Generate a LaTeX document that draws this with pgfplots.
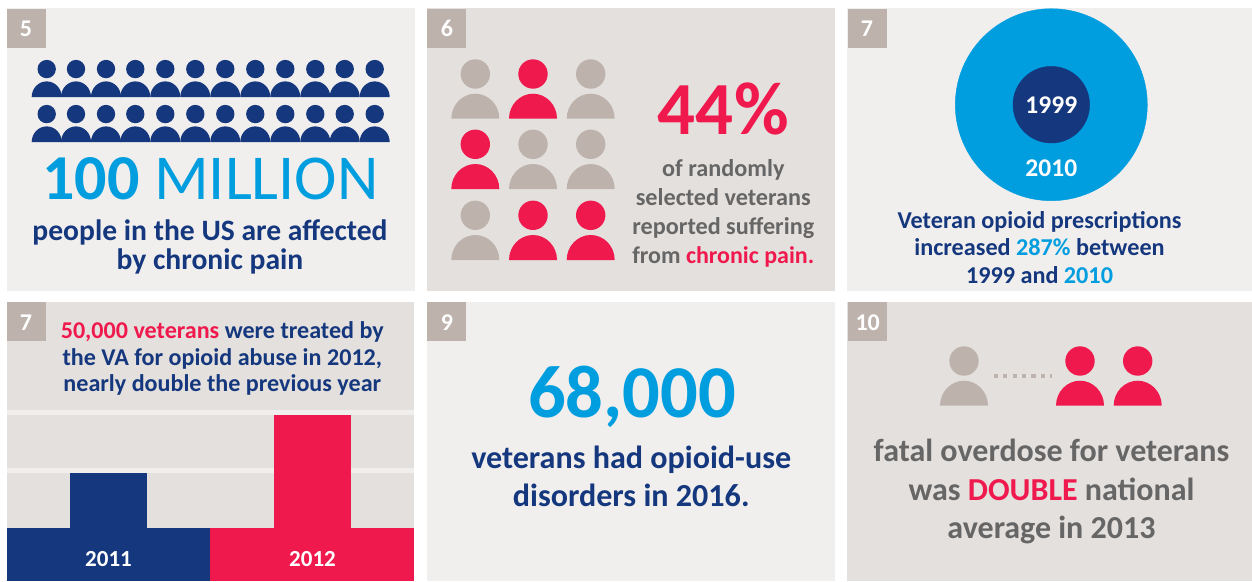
\documentclass[border=0pt]{standalone}
\usepackage{pgfplots}
\pgfplotsset{compat=1.18}
\usepackage{fontspec}
\setmainfont{Carlito}

\definecolor{navy}{HTML}{14377D}
\definecolor{rose}{HTML}{F0194D}
\definecolor{sky}{HTML}{009DDF}
\definecolor{slate}{HTML}{666666}
\definecolor{taupe}{HTML}{BDB2AC}
\definecolor{panelA}{HTML}{F1EFEE}
\definecolor{panelB}{HTML}{E4E0DD}

% Person pictogram, anchored at the middle of its base
\pgfdeclareplotmark{person}{%
  \pgfpathcircle{\pgfpoint{0pt}{44.7pt}}{14.7pt}%
  \pgfpathmoveto{\pgfpoint{-24pt}{0pt}}%
  \pgfpathcurveto{\pgfpoint{-24pt}{14pt}}{\pgfpoint{-13pt}{25pt}}{\pgfpoint{0pt}{25pt}}%
  \pgfpathcurveto{\pgfpoint{13pt}{25pt}}{\pgfpoint{24pt}{14pt}}{\pgfpoint{24pt}{0pt}}%
  \pgfpathclose
  \pgfusepathqfill}

% One line of text placed by the middle of its baseline
\newcommand{\linetext}[4]{%
  \node[anchor=base,inner sep=0pt] at (axis cs:#1,#2) {\fontsize{#3}{#3}\selectfont #4};}
\newcommand{\panel}[5]{\fill[#5] (axis cs:#1,#2) rectangle (axis cs:#3,#4);}

\begin{document}
\begin{tikzpicture}
\path[use as bounding box] (0pt,0pt) rectangle (1252pt,581pt);
\begin{axis}[
  name=sheet, at={(0pt,0pt)}, anchor=south west,
  scale only axis, width=1252pt, height=581pt,
  xmin=0, xmax=1252, ymin=0, ymax=581, y dir=reverse,
  hide axis, clip=false,
  every axis plot/.append style={only marks}]

% Panels
\panel{7}{8}{415}{291}{panelA}
\panel{427}{8}{835}{291}{panelB}
\panel{847}{8}{1252}{291}{panelA}
\panel{7}{302}{414}{581}{panelB}
\panel{427}{302}{835}{581}{panelA}
\panel{847}{302}{1252}{581}{panelB}
% Base blocks of the 2011/2012 bars
\panel{7}{528}{210}{581}{navy}
\panel{210}{528}{414}{581}{rose}

% Number badges
\panel{7}{9}{46}{48}{taupe}
\panel{427}{9}{466}{48}{taupe}
\panel{848}{9}{887}{48}{taupe}
\panel{7}{302}{46}{341}{taupe}
\panel{427}{302}{466}{341}{taupe}
\panel{848}{302}{887}{341}{taupe}
\linetext{26}{36}{24}{\bfseries\color{white}5}
\linetext{447}{36}{24}{\bfseries\color{white}6}
\linetext{867}{36}{24}{\bfseries\color{white}7}
\linetext{26}{330}{24}{\bfseries\color{white}7}
\linetext{447}{330}{24}{\bfseries\color{white}9}
\linetext{867.7}{330}{24}{\bfseries\color{white}10}

% Crowd of two rows
\addplot[mark=person, mark options={scale=0.625, fill=navy, draw=none}] coordinates {
  (46.7,97) (76,97) (106,97) (135.3,97) (165.3,97) (195.3,97)
  (225.3,97) (255.3,97) (285.3,97) (315.3,97) (344.7,97) (374.7,97)
  (46.7,142) (76,142) (106,142) (135.3,142) (165.3,142) (195.3,142)
  (225.3,142) (255.3,142) (285.3,142) (315.3,142) (344.7,142) (374.7,142)};
\linetext{210.5}{199}{64}{\color{sky}\textbf{100} MILLION}
\linetext{210}{240}{29.6}{\bfseries\color{navy}people in the US are affected}
\linetext{210}{269}{29.6}{\bfseries\color{navy}by chronic pain}

% Nine veterans, four of them affected
\addplot[mark=person, mark options={fill=taupe, draw=none}] coordinates {
  (475.3,118.7) (590.7,118.7) (533,189) (590.7,189) (475.3,260)};
\addplot[mark=person, mark options={fill=rose, draw=none}] coordinates {
  (533,118.7) (475.3,189) (533,260) (590.7,260)};
\linetext{723.3}{134}{75}{\bfseries\color{rose}44\%}
\linetext{723.3}{176}{24.2}{\bfseries\color{slate}of randomly}
\linetext{723.3}{205}{24.2}{\bfseries\color{slate}selected veterans}
\linetext{723.3}{234}{24.2}{\bfseries\color{slate}reported suffering}
\linetext{723.3}{263}{24}{\bfseries\color{slate}from \textcolor{rose}{chronic pain.}}

% Prescription circles
\addplot[mark=*, mark size=96pt, mark options={fill=sky, draw=sky}] coordinates {(1051.3,104.7)};
\addplot[mark=*, mark size=38.3pt, mark options={fill=navy, draw=navy}] coordinates {(1051.3,104.7)};
\linetext{1039.5}{228.8}{24.2}{\bfseries\color{navy}Veteran opioid prescriptions}
\linetext{1039.5}{255.8}{24.2}{\bfseries\color{navy}increased \textcolor{sky}{287\%} between}
\linetext{1039.5}{283}{24.2}{\bfseries\color{navy}1999 and \textcolor{sky}{2010}}

% Heading above the bars
\linetext{222.3}{338}{24.1}{\bfseries\textcolor{rose}{50,000 veterans} \textcolor{navy}{were treated by}}
\linetext{222.3}{365}{24.1}{\bfseries\color{navy}the VA for opioid abuse in 2012,}
\linetext{222.3}{391.3}{24.1}{\bfseries\color{navy}nearly double the previous year}

% Large statement
\linetext{632}{417.5}{74.5}{\bfseries\color{sky}68,000}
\linetext{631.2}{468}{32.1}{\bfseries\color{navy}veterans had opioid-use}
\linetext{631.2}{506.5}{32.1}{\bfseries\color{navy}disorders in 2016.}

% One against two
\addplot[mark=person, mark options={fill=taupe, draw=none}] coordinates {(964,405.7)};
\addplot[mark=person, mark options={fill=rose, draw=none}] coordinates {(1080,405.7) (1137.7,405.7)};
\addplot[no marks, sharp plot, taupe, line width=4.3pt, dash pattern=on 4.3pt off 5.1pt]
  coordinates {(993.7,376) (1051.7,376)};
\linetext{1051.5}{461}{32}{\bfseries\color{slate}fatal overdose for veterans}
\linetext{1051.5}{500}{32}{\bfseries\color{slate}was \textcolor{rose}{DOUBLE} national}
\linetext{1051.5}{538.7}{32}{\bfseries\color{slate}average in 2013}
\end{axis}

% Years set on top of the circles
\node[anchor=base,inner sep=0pt,text=white] at (1051.3pt,467pt) {\fontsize{25.5}{25.5}\selectfont\bfseries 1999};
\node[anchor=base,inner sep=0pt,text=white] at (1051.3pt,404.5pt) {\fontsize{25.5}{25.5}\selectfont\bfseries 2010};

% Veterans treated by the VA
\begin{axis}[
  at={(7pt,53pt)}, anchor=south west,
  scale only axis, width=407pt, height=118pt,
  xmin=-0.4975, xmax=1.4975, ymin=0, ymax=52212,
  axis line style={draw=none}, tick style={draw=none},
  xtick={0,1}, xticklabels={2011,2012},
  xticklabel style={anchor=base, yshift=-34.2pt, text=white,
    font=\fontsize{23}{23}\selectfont\bfseries},
  ytick={25306,51106}, yticklabels={}, scaled y ticks=false,
  ymajorgrids, grid style={panelA, line width=5pt},
  ybar, bar width=77pt]
\addplot[bar shift=0pt, fill=navy, draw=none] coordinates {(0,24200)};
\addplot[bar shift=0pt, fill=rose, draw=none] coordinates {(1,50000)};
\end{axis}
\end{tikzpicture}
\end{document}
